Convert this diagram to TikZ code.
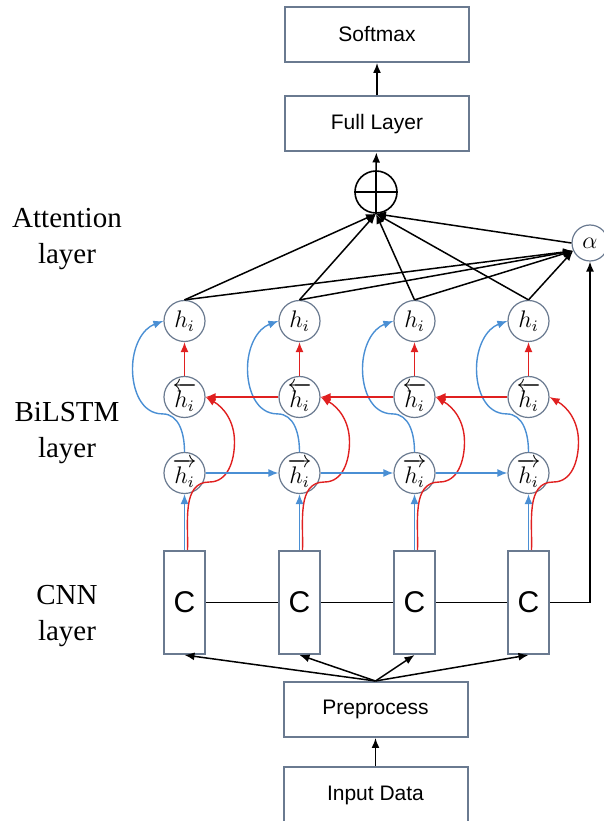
\documentclass[tikz,border=0pt]{standalone}
\usepackage{amsmath}
\usepackage{fontspec}
\setmainfont{Liberation Serif}
\setsansfont{Liberation Sans}
\usetikzlibrary{arrows.meta, positioning}

\definecolor{boxgray}{RGB}{106,122,144}
\definecolor{lstmblue}{RGB}{74,143,212}
\definecolor{lstmred}{RGB}{224,32,32}

\tikzset{
    layerbox/.style={draw=boxgray, line width=1pt, minimum width=92pt, minimum height=27.5pt, inner sep=0pt, font=\sffamily\fontsize{10.5}{12}\selectfont},
    cnnbox/.style={draw=boxgray, line width=1pt, minimum width=20.5pt, minimum height=51.5pt, inner sep=0pt, font=\sffamily\fontsize{15}{18}\selectfont},
    cell/.style={circle, draw=boxgray, line width=0.6pt, minimum size=20.5pt, inner sep=0pt, font=\fontsize{12}{14}\selectfont},
    sidelabel/.style={align=center, font=\fontsize{14.5}{18}\selectfont},
    blk/.style={line width=0.75pt},
    fwd/.style={->, lstmblue, line width=0.7pt},
    bwd/.style={->, lstmred, line width=0.7pt},
}

\begin{document}
\begin{tikzpicture}[x=0.5pt, y=0.5pt, >={Latex[length=5pt,width=4pt]}]
    \useasboundingbox (0,0) rectangle (604,821);

    % Boites
    \node[layerbox] (soft) at (377,786.5) {Softmax};
    \node[layerbox] (full) at (377,697) {Full Layer};
    \node[layerbox] (pre) at (375.5,111.5) {Preprocess};
    \node[layerbox] (input) at (375.5,26) {Input Data};

    % Somme et alpha
    \node[circle, draw, line width=0.8pt, minimum size=21pt, inner sep=0pt] (sum) at (376,629) {};
    \draw[line width=0.8pt] (sum.west) -- (sum.east) (sum.north) -- (sum.south);
    \node[cell, minimum size=18pt] (alpha) at (590,578) {$\alpha$};

    % Colonnes
    \foreach \i/\x in {1/184.5, 2/299.5, 3/414.5, 4/528.5} {
        \node[cnnbox] (c\i) at (\x,218.5) {C};
        \node[cell] (f\i) at (\x,348) {$\overrightarrow{h_i}$};
        \node[cell] (b\i) at (\x,424) {$\overleftarrow{h_i}$};
        \node[cell] (h\i) at (\x,500) {$h_i$};
    }

    % Fleches verticales
    \draw[->, blk] (input) -- (pre);
    \draw[->, blk] (full) -- (soft);
    \draw[->, blk] (sum.north) -- (full);
    \foreach \i in {1,...,4} {
        \draw[->, blk] (pre.north) -- (c\i.south);
        \draw[bwd] ([xshift=1.5pt]c\i.north) to[out=88,in=180] ++(22,68) to[out=0,in=-90] ++(25,40) to[out=90,in=-30] (b\i.east);
        \draw[fwd] (c\i.north) -- (f\i);
        \draw[bwd] (b\i) -- (h\i);
        \draw[fwd] (f\i.north) to[out=90,in=0] ++(-22,38) to[out=180,in=-90] ++(-30,45) to[out=90,in=200] (h\i.west);
        \draw[->, blk] (h\i.north) -- (sum.south);
        \draw[->, blk] (h\i.north) -- (alpha.205);
    }

    % Fleches horizontales
    \foreach \i/\j in {1/2, 2/3, 3/4} {
        \draw[fwd] (f\i) -- (f\j);
        \draw[bwd] (b\j) -- (b\i);
        \draw[blk] (c\i) -- (c\j);
    }
    \draw[->, blk] (c4.east) -| (alpha.south);
    \draw[->, blk] (alpha.west) -- (sum.south);

    % Legendes
    \node[sidelabel] (attlbl) at (67,581.5) {Attention\\layer};
    \node[sidelabel] (lstmlbl) at (67,387.5) {BiLSTM\\layer};
    \node[sidelabel] (cnnlbl) at (67,204.5) {CNN\\layer};
\end{tikzpicture}
\end{document}
